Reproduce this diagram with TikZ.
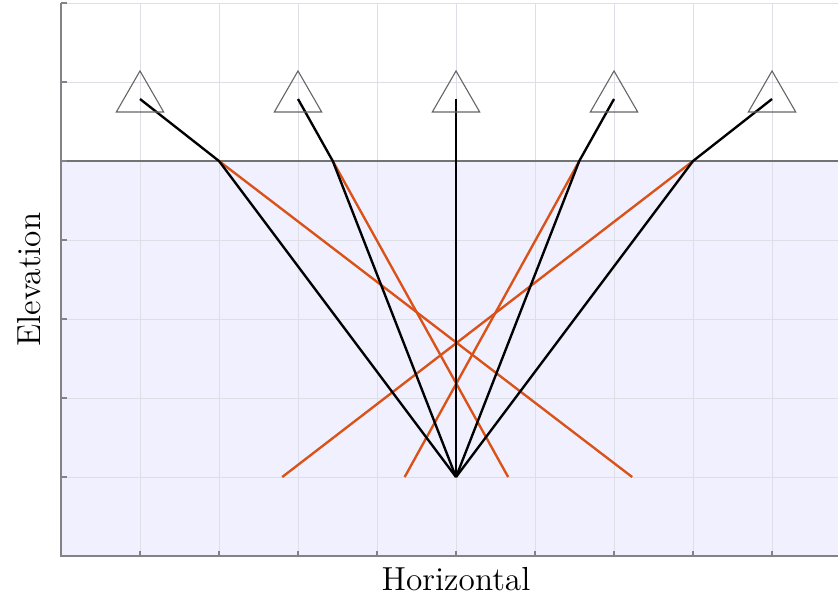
\documentclass[tikz,border=0pt]{standalone}
\usetikzlibrary{calc}

\definecolor{waterblue}{RGB}{240,240,254}
\definecolor{rayorange}{rgb}{0.85,0.325,0.098}
\definecolor{gridgray}{RGB}{222,222,230}
\definecolor{axisgray}{RGB}{130,130,135}

\begin{document}
\begin{tikzpicture}[
    x=1cm, y=1cm,
    gridline/.style={draw=gridgray, line width=0.35pt},
    axisline/.style={draw=axisgray, line width=0.6pt},
    sensor/.style={draw=black!60, line width=0.4pt},
    ray/.style={line width=0.85pt, black},
    straight/.style={line width=0.85pt, rayorange},
  ]
    \useasboundingbox (-5.772,-5.481) rectangle (4.835,2.038);
    \clip (-5.772,-5.481) rectangle (4.835,2.038);

    % water below the surface
    \fill[waterblue] (-5,-5) rectangle (5,0);

    % grid
    \foreach \gx in {-4,...,4}
      \draw[gridline] (\gx,-5) -- (\gx,2);
    \foreach \gy in {-4,...,1}
      \draw[gridline] (-5,\gy) -- (5,\gy);
    \draw[gridline] (-5,2) -- (5,2);

    % water surface
    \draw[draw=black!55, line width=0.4pt] (-5,0) -- (5,0);

    % axes with ticks
    \draw[axisline] (-5,2) -- (-5,-5) -- (5,-5);
    \foreach \gy in {-4,...,2}
      \draw[axisline] (-5,\gy) -- (-4.93,\gy);
    \foreach \gx in {-4,...,4}
      \draw[axisline] (\gx,-5) -- (\gx,-4.93);

    % source, surface points, receivers
    \coordinate (src) at (0,-4);
    \coordinate (s1) at (-3,0);
    \coordinate (s2) at (-1.56,0);
    \coordinate (s3) at (0,0);
    \coordinate (s4) at (1.56,0);
    \coordinate (s5) at (3,0);
    \coordinate (e1) at (2.23,-4);
    \coordinate (e2) at (0.66,-4);
    \coordinate (e3) at (0,-4);
    \coordinate (e4) at (-0.65,-4);
    \coordinate (e5) at (-2.2,-4);
    \foreach \i/\rx in {1/-4,2/-2,3/0,4/2,5/4}
      \coordinate (r\i) at (\rx,0.785);

    % unrefracted paths
    \foreach \i in {1,...,5}
      \draw[straight] (s\i) -- (e\i);

    % refracted paths
    \foreach \i in {1,...,5}
      \draw[ray, line join=round] (r\i) -- (s\i) -- (src);

    % receivers
    \foreach \i in {1,...,5}
      \draw[sensor] ($(r\i)+(-0.3,-0.165)$) -- ($(r\i)+(0,0.355)$) -- ($(r\i)+(0.3,-0.165)$) -- cycle;

    % axis labels
    \node[font=\large] (xlabel) at (0,-5.29) {Horizontal};
    \node[font=\large, rotate=90] (ylabel) at (-5.4,-1.5) {Elevation};
  \end{tikzpicture}
\end{document}
